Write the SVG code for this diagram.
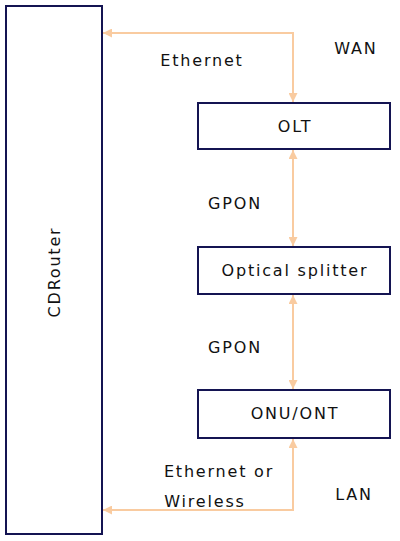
<svg xmlns="http://www.w3.org/2000/svg" width="400" height="541" viewBox="0 0 400 541">
<style>
.node{fill:#fff;stroke:#141452;stroke-width:2}
.lbl{font-family:"Comic Sans MS","DejaVu Sans",sans-serif;font-size:16px;letter-spacing:1.8px;fill:#111;text-anchor:middle}
.conn{fill:none;stroke:#f9cba0;stroke-width:2}
</style>
<defs>
<marker id="ah" viewBox="0 0 10 10" refX="10" refY="5" markerWidth="4.5" markerHeight="4.5" orient="auto-start-reverse" markerUnits="strokeWidth">
<path d="M0,0 L10,5 L0,10 z" fill="#f9cba0"/>
</marker>
</defs>
<rect width="400" height="541" fill="#fff"/>
<g id="connectors">
<path class="conn" d="M293,102 V33 H103" marker-start="url(#ah)" marker-end="url(#ah)"/>
<path class="conn" d="M293,150 V246" marker-start="url(#ah)" marker-end="url(#ah)"/>
<path class="conn" d="M293,295 V389" marker-start="url(#ah)" marker-end="url(#ah)"/>
<path class="conn" d="M293,439 V510 H103" marker-start="url(#ah)" marker-end="url(#ah)"/>
</g>
<g id="cdrouter">
<rect class="node" x="6" y="6" width="96" height="528"/>
<text class="lbl" transform="translate(60,272) rotate(-90)">CDRouter</text>
</g>
<g id="olt">
<rect class="node" x="198" y="103" width="192" height="46"/>
<text class="lbl" x="295" y="132">OLT</text>
</g>
<g id="splitter">
<rect class="node" x="198" y="247" width="192" height="47"/>
<text class="lbl" x="295" y="276">Optical splitter</text>
</g>
<g id="onu">
<rect class="node" x="198" y="390" width="192" height="48"/>
<text class="lbl" x="295" y="419">ONU/ONT</text>
</g>
<g id="labels">
<text class="lbl" x="202" y="66">Ethernet</text>
<text class="lbl" x="356" y="54">WAN</text>
<text class="lbl" x="235" y="209">GPON</text>
<text class="lbl" x="235" y="353">GPON</text>
<text class="lbl" x="219" y="477">Ethernet or</text>
<text class="lbl" x="205" y="507">Wireless</text>
<text class="lbl" x="354" y="500">LAN</text>
</g>
</svg>
